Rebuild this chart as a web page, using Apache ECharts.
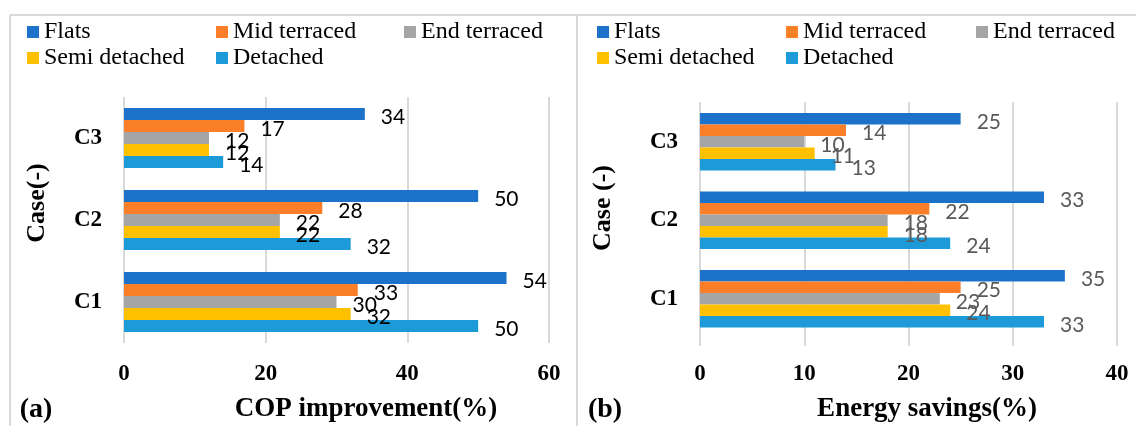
<!DOCTYPE html>
<html>
<head>
<meta charset="utf-8">
<script src="https://cdn.jsdelivr.net/npm/echarts@6/dist/echarts.min.js"></script>
<style>
  html, body { margin: 0; padding: 0; background: #fff; }
  #chart { width: 1136px; height: 426px; }
</style>
</head>
<body>
<div id="chart"></div>
<script>
// Case labels (bottom to top) and building types
const categories = ['C1', 'C2', 'C3'];
const houseTypes = ['Flats', 'Mid terraced', 'End terraced', 'Semi detached', 'Detached'];
const houseColors = ['#1B72C8', '#FB7E29', '#A5A5A5', '#FFC000', '#1C9BD8'];

// (a) COP improvement (%), per case C1, C2, C3
const copFlats = [54, 50, 34];
const copMidTerraced = [33, 28, 17];
const copEndTerraced = [30, 22, 12];
const copSemiDetached = [32, 22, 12];
const copDetached = [50, 32, 14];

// (b) Energy savings (%), per case C1, C2, C3
const saveFlats = [35, 33, 25];
const saveMidTerraced = [25, 22, 14];
const saveEndTerraced = [23, 18, 10];
const saveSemiDetached = [24, 18, 11];
const saveDetached = [33, 24, 13];

// x-axis ranges and tick steps
const copAxis = { min: 0, max: 60, interval: 20 };
const saveAxis = { min: 0, max: 40, interval: 10 };

const copData = [copFlats, copMidTerraced, copEndTerraced, copSemiDetached, copDetached];
const saveData = [saveFlats, saveMidTerraced, saveEndTerraced, saveSemiDetached, saveDetached];

const SERIF = 'Liberation Serif';
const LABEL_FONT = 'Lato';
const GRID_GRAY = '#D9D9D9';

function makeSeries(dataSets, axisIndex, labelColor, barWidth) {
  return houseTypes.map((name, i) => ({
    name: name,
    type: 'bar',
    xAxisIndex: axisIndex,
    yAxisIndex: axisIndex,
    data: dataSets[i],
    barWidth: barWidth,
    barGap: '0%',
    itemStyle: { color: houseColors[i] },
    label: {
      show: true,
      position: 'right',
      distance: 16,
      offset: [0, 3],
      fontFamily: LABEL_FONT,
      fontSize: 21,
      color: labelColor
    },
    emphasis: { disabled: true },
    animation: false
  }));
}

// value axis; `decorated` controls tick labels and vertical gridlines
function valueAxis(gridIndex, range, labelMargin, decorated) {
  return {
    type: 'value',
    gridIndex: gridIndex,
    min: range.min,
    max: range.max,
    interval: range.interval,
    axisLine: { show: false },
    axisTick: { show: false },
    splitLine: { show: decorated, lineStyle: { color: GRID_GRAY, width: 2 } },
    axisLabel: {
      show: decorated,
      margin: labelMargin,
      fontFamily: SERIF,
      fontWeight: 'bold',
      fontSize: 23,
      color: '#000'
    }
  };
}

function categoryAxis(gridIndex, visible) {
  return {
    type: 'category',
    gridIndex: gridIndex,
    data: categories,
    show: visible,
    axisLine: { show: false },
    axisTick: { show: false },
    splitLine: { show: false },
    axisLabel: {
      margin: 22,
      fontFamily: SERIF,
      fontWeight: 'bold',
      fontSize: 23,
      color: '#000'
    }
  };
}

// Legend: one entry per slot, laid out in fixed columns
const legendCols = [[27, 216, 404], [597, 786, 976]];
const legendRowsTop = [19, 45];
const legends = [];
legendCols.forEach(cols => {
  houseTypes.forEach((name, i) => {
    legends.push({
      data: [name],
      left: cols[i % 3],
      top: legendRowsTop[Math.floor(i / 3)],
      padding: 0,
      icon: 'rect',
      itemWidth: 12,
      itemHeight: 12,
      itemGap: 0,
      itemTextGap: 5,
      selectedMode: false,
      textStyle: { fontFamily: SERIF, fontSize: 24, color: '#000', lineHeight: 26 }
    });
  });
});

function text(str, x, y, size, opts) {
  return Object.assign({
    type: 'text',
    x: x,
    y: y,
    style: {
      text: str,
      font: 'bold ' + size + 'px "' + SERIF + '"',
      fill: '#000',
      align: 'center',
      verticalAlign: 'middle'
    },
    silent: true
  }, opts || {});
}

const borderStyle = { stroke: GRID_GRAY, lineWidth: 2 };

const option = {
  backgroundColor: '#fff',
  animation: false,
  legend: legends,
  grid: [
    // (a) plot area
    { left: 124, right: 1136 - 549, top: 97, bottom: 426 - 343 },
    // (b) bar area
    { left: 700, right: 1136 - 1117, top: 102.5, bottom: 426 - 338 },
    // (b) gridline frame, slightly taller than the bar area
    { left: 700, right: 1136 - 1117, top: 102, bottom: 426 - 346 }
  ],
  xAxis: [
    valueAxis(0, copAxis, 20, true),
    valueAxis(1, saveAxis, 0, false),
    valueAxis(2, saveAxis, 17, true)
  ],
  yAxis: [categoryAxis(0, true), categoryAxis(1, true), categoryAxis(2, false)],
  series: makeSeries(copData, 0, '#000', 12).concat(makeSeries(saveData, 1, '#595959', 11.5)),
  graphic: [
    { type: 'line', shape: { x1: 10, y1: 15, x2: 1136, y2: 15 }, style: borderStyle, silent: true },
    { type: 'line', shape: { x1: 10, y1: 15, x2: 10, y2: 426 }, style: borderStyle, silent: true },
    { type: 'line', shape: { x1: 577, y1: 15, x2: 577, y2: 426 }, style: borderStyle, silent: true },
    text('Case(-)', 37, 203, 26, { rotation: Math.PI / 2 }),
    text('Case (-)', 603, 208, 26, { rotation: Math.PI / 2 }),
    text('COP improvement(%)', 366, 409, 27),
    text('Energy savings(%)', 927, 409, 27),
    text('(a)', 36, 410, 28),
    text('(b)', 605, 410, 28)
  ]
};

const chart = echarts.init(document.getElementById('chart'), null, { renderer: 'canvas' });
chart.setOption(option);
</script>
</body>
</html>
